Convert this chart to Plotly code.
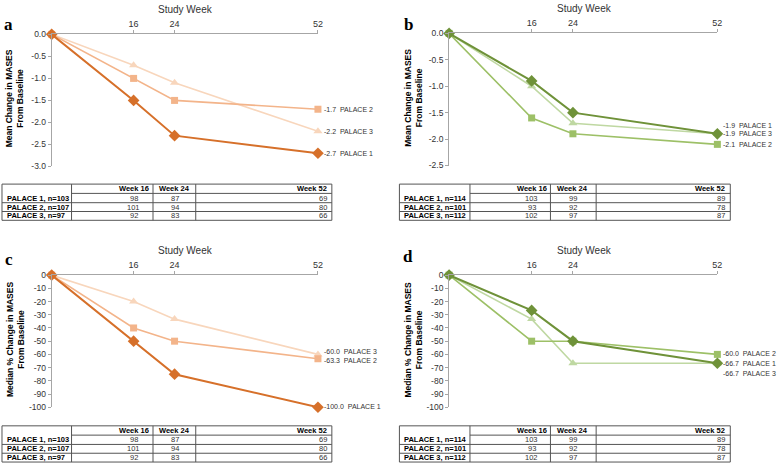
import plotly.graph_objects as go

W, H = 779, 469
FONT = "Liberation Sans"

weeks = [0, 16, 24, 52]
tick_weeks = [16, 24, 52]
names = ["PALACE 1", "PALACE 2", "PALACE 3"]

# Panel a: mean change in MASES (orange)
a_p1 = [0, -1.5, -2.3, -2.7]
a_p2 = [0, -1.0, -1.5, -1.7]
a_p3 = [0, -0.7, -1.1, -2.2]
# Panel b: mean change in MASES (green)
b_p1 = [0, -0.9, -1.5, -1.9]
b_p2 = [0, -1.6, -1.9, -2.1]
b_p3 = [0, -1.0, -1.7, -1.9]
# Panel c: median % change (orange)
c_p1 = [0, -50, -75, -100]
c_p2 = [0, -40, -50, -63.3]
c_p3 = [0, -20, -33.3, -60]
# Panel d: median % change (green)
d_p1 = [0, -26.7, -50, -66.7]
d_p2 = [0, -50, -50, -60]
d_p3 = [0, -33.3, -66.7, -66.7]

# Tables: patients at weeks 16, 24, 52
ac_n = [103, 107, 97]
ac_counts = [[98, 87, 69], [101, 94, 80], [92, 83, 66]]
bd_n = [114, 101, 112]
bd_counts = [[103, 99, 89], [93, 92, 78], [102, 97, 87]]

orange = ["#D6702A", "#F3B48A", "#F8D6BC"]
green = ["#6F9239", "#9DC067", "#BFD8A2"]
symbols = ["diamond", "square", "triangle-up"]
msizes = [9, 7, 8]
lwidths = [2.0, 1.6, 1.6]


def px(x):
    return x / W


def py(y):
    return 1 - y / H


fig = go.Figure()
annotations = []
shapes = []

panels = [
    dict(k="", letter="a", series=[a_p1, a_p2, a_p3], colors=orange,
         l=52, r=320, t=30, b=165, yr=[-3, 0], dt=0.5, fmt=".1f",
         title="Mean Change in MASES<br>From Baseline", offs=[0, 0, 0],
         tl=2, tr=334, tc=[72, 154, 197], tt=183, n=ac_n, counts=ac_counts,
         letter_xy=(9, 20), tx=15),
    dict(k="2", letter="b", series=[b_p1, b_p2, b_p3], colors=green,
         l=452, r=722, t=29, b=164, yr=[-2.5, 0], dt=0.5, fmt=".1f",
         title="Mean Change in MASES<br>From Baseline", offs=[8, 0, 0],
         tl=402, tr=735, tc=[473, 554, 600], tt=183, n=bd_n, counts=bd_counts,
         letter_xy=(411, 20), tx=416),
    dict(k="3", letter="c", series=[c_p1, c_p2, c_p3], colors=orange,
         l=52, r=320, t=276, b=411, yr=[-100, 0], dt=10, fmt="d",
         title="Median % Change in MASES<br>From Baseline", offs=[1, -2, 3],
         tl=2, tr=334, tc=[72, 154, 197], tt=430, n=ac_n, counts=ac_counts,
         letter_xy=(9, 260), tx=15),
    dict(k="4", letter="d", series=[d_p1, d_p2, d_p3], colors=green,
         l=452, r=722, t=276, b=411, yr=[-100, 0], dt=10, fmt="d",
         title="Median % Change in MASES<br>From Baseline", offs=[0, 1, -10],
         tl=402, tr=735, tc=[473, 554, 600], tt=430, n=bd_n, counts=bd_counts,
         letter_xy=(411, 257), tx=416),
]

layout_axes = {}
for p in panels:
    k = p["k"]
    xname, yname = "x" + k, "y" + k
    for i in [2, 1, 0]:
        fig.add_trace(go.Scatter(
            x=weeks, y=p["series"][i], mode="lines+markers",
            line=dict(color=p["colors"][i], width=lwidths[i]),
            marker=dict(symbol=symbols[i], size=msizes[i], color=p["colors"][i]),
            xaxis=xname, yaxis=yname, cliponaxis=False, showlegend=False,
            hoverinfo="skip"))
    yvals = []
    v = 0.0
    while v >= p["yr"][0] - 1e-9:
        yvals.append(round(v, 2))
        v -= p["dt"]
    ytext = [f"{t:.1f}" if p["fmt"] == ".1f" else f"{int(t)}" for t in yvals]
    layout_axes["xaxis" + k] = dict(
        domain=[px(p["l"]), px(p["r"])], range=[0, 52], anchor=yname,
        side="top", showgrid=False, zeroline=False, showline=True,
        linecolor="#A6A6A6", linewidth=1, ticks="outside", ticklen=3,
        tickcolor="#A6A6A6", tickvals=tick_weeks,
        ticktext=[str(w) for w in tick_weeks],
        tickfont=dict(family=FONT, size=9, color="#333333"), fixedrange=True)
    layout_axes["yaxis" + k] = dict(
        domain=[py(p["b"]), py(p["t"])], range=p["yr"], anchor=xname,
        showgrid=False, zeroline=False, showline=True, linecolor="#A6A6A6",
        linewidth=1, ticks="outside", ticklen=3, tickcolor="#A6A6A6",
        tickvals=yvals, ticktext=ytext,
        tickfont=dict(family=FONT, size=8.5, color="#333333"), fixedrange=True)

    annotations.append(dict(
        x=px((p["l"] + p["r"]) / 2 + 1), y=py(p["t"] - 25), xref="paper", yref="paper",
        text="Study Week", showarrow=False, xanchor="center", yanchor="middle",
        font=dict(family=FONT, size=10, color="#333333")))
    annotations.append(dict(
        x=px(p["letter_xy"][0]), y=py(p["letter_xy"][1]), xref="paper", yref="paper",
        text="<b>" + p["letter"] + "</b>", showarrow=False, xanchor="center",
        yanchor="middle", font=dict(family="Liberation Serif", size=17, color="#000000")))
    annotations.append(dict(
        x=px(p["tx"]), y=py((p["t"] + p["b"]) / 2 - 2), xref="paper", yref="paper",
        text="<b>" + p["title"] + "</b>", showarrow=False, textangle=-90,
        xanchor="center", yanchor="middle",
        font=dict(family=FONT, size=8.5, color="#000000")))
    for i in range(3):
        val = p["series"][i][-1]
        annotations.append(dict(
            x=52, y=val, xref=xname, yref=yname, xanchor="left", yanchor="middle",
            xshift=4, yshift=p["offs"][i], showarrow=False,
            text=f"{val:.1f}  {names[i]}",
            font=dict(family=FONT, size=7, color="#333333")))

    tl, tr, tt = p["tl"], p["tr"], p["tt"]
    c1, c2, c3 = p["tc"]
    rows = [tt, tt + 9.5, tt + 19, tt + 28, tt + 37]
    lc = dict(color="#555555", width=1)
    shapes.append(dict(type="rect", xref="paper", yref="paper",
                       x0=px(tl), x1=px(tr), y0=py(rows[4]), y1=py(rows[0]), line=lc))
    for cx in (c1, c2, c3):
        shapes.append(dict(type="line", xref="paper", yref="paper",
                           x0=px(cx), x1=px(cx), y0=py(rows[4]), y1=py(rows[0]), line=lc))
    shapes.append(dict(type="line", xref="paper", yref="paper",
                       x0=px(c1), x1=px(tr), y0=py(rows[1]), y1=py(rows[1]), line=lc))
    for ry in (rows[2], rows[3]):
        shapes.append(dict(type="line", xref="paper", yref="paper",
                           x0=px(tl), x1=px(tr), y0=py(ry), y1=py(ry), line=lc))
    wx = [p["l"] + (p["r"] - p["l"]) * w / 52 for w in tick_weeks]
    tf = dict(family=FONT, size=7.5, color="#000000")
    for j, w in enumerate(tick_weeks):
        txt = f"<b>Week {w}</b>"
        if j < 2:
            annotations.append(dict(x=px(wx[j]), y=py((rows[0] + rows[1]) / 2),
                                    xref="paper", yref="paper", text=txt,
                                    showarrow=False, xanchor="center", yanchor="middle", font=tf))
        else:
            annotations.append(dict(x=px(tr - 3), y=py((rows[0] + rows[1]) / 2),
                                    xref="paper", yref="paper", text=txt,
                                    showarrow=False, xanchor="right", yanchor="middle", font=tf))
    for i in range(3):
        yc = py((rows[i + 1] + rows[i + 2]) / 2)
        annotations.append(dict(x=px(tl + 3), y=yc, xref="paper", yref="paper",
                                text=f"<b>{names[i]}, n={p['n'][i]}</b>", showarrow=False,
                                xanchor="left", yanchor="middle", font=tf))
        for j in range(3):
            nf = dict(family=FONT, size=7.5, color="#333333")
            if j < 2:
                annotations.append(dict(x=px(wx[j]), y=yc, xref="paper", yref="paper",
                                        text=str(p["counts"][i][j]), showarrow=False,
                                        xanchor="center", yanchor="middle", font=nf))
            else:
                annotations.append(dict(x=px(tr - 3), y=yc, xref="paper", yref="paper",
                                        text=str(p["counts"][i][j]), showarrow=False,
                                        xanchor="right", yanchor="middle", font=nf))

fig.update_layout(
    width=W, height=H, autosize=False,
    margin=dict(l=0, r=0, t=0, b=0),
    paper_bgcolor="white", plot_bgcolor="white",
    annotations=annotations, shapes=shapes,
    **layout_axes)

fig.write_html(
    "out.html",
    config={"displayModeBar": False, "responsive": False},
    post_script="document.body.style.margin='0';document.body.style.overflow='hidden';",
)
